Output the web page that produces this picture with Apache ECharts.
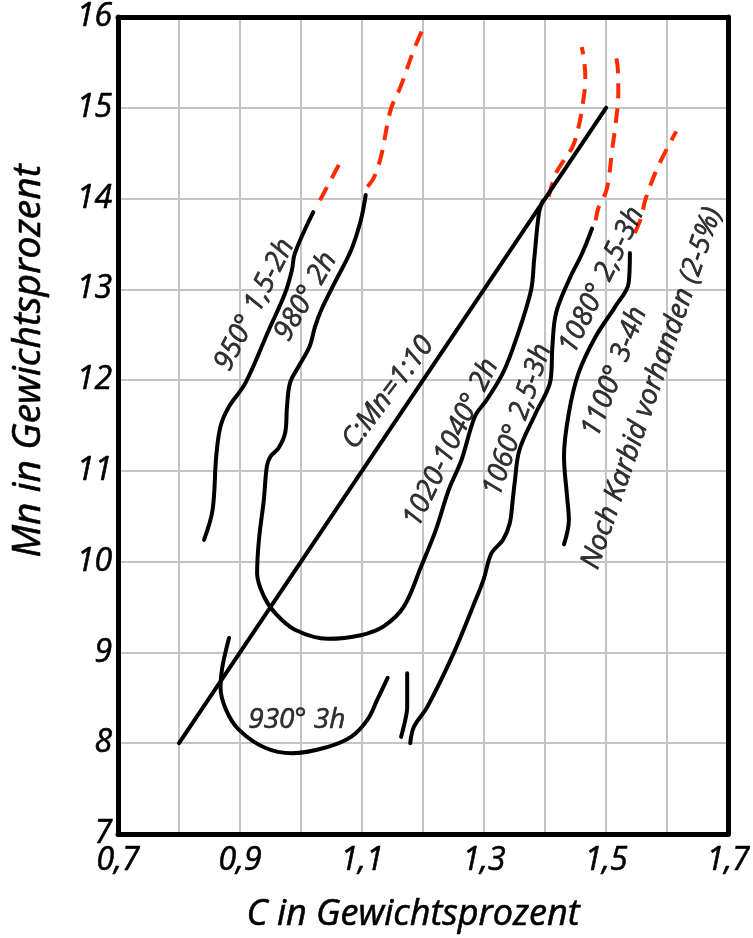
<!DOCTYPE html>
<html><head><meta charset="utf-8">
<script src="https://cdn.jsdelivr.net/npm/echarts@6/dist/echarts.min.js"></script>
<style>html,body{margin:0;padding:0;background:#fff}#c{width:753px;height:938px}</style>
</head><body><div id="c"></div>
<script>
// ---- axis ticks ----
const xTickLabels = ['0,7','0,9','1,1','1,3','1,5','1,7'];
const yTickLabels = ['7','8','9','10','11','12','13','14','15','16'];
const xTitle = 'C in Gewichtsprozent';
const yTitle = 'Mn in Gewichtsprozent';

// ---- C:Mn = 1:10 line ----
const ratioLine = [[0.8,8.0],[1.5,15.0]];

// ---- 950° 1,5-2h ----
const c950 = [[1.020,13.85],[0.990,13.40],[0.985,13.21],[0.974,12.96],[0.947,12.55],[0.909,11.97],[0.882,11.71],[0.868,11.49],[0.861,11.16],[0.855,10.57],[0.841,10.24]];
const c950Dash = [[1.031,13.98],[1.069,14.46]];

// ---- 980° 2h  / 1020-1040° 2h (one continuous curve) ----
const c980 = [[1.106,14.04],[1.098,13.76],[1.082,13.43],[1.055,13.07],[1.033,12.77],[1.023,12.59],[1.014,12.37],[0.996,12.15],[0.982,11.97],[0.977,11.71],[0.974,11.42],[0.963,11.25],[0.950,11.16],[0.944,11.05],[0.939,10.68],[0.931,10.24],[0.928,9.87],[0.939,9.62],[0.958,9.43],[0.990,9.25],[1.044,9.15],[1.098,9.19],[1.136,9.29],[1.169,9.51],[1.197,9.95],[1.221,10.35],[1.242,10.79],[1.263,11.12],[1.285,11.60],[1.304,11.78],[1.331,12.08],[1.353,12.46],[1.377,12.99],[1.382,13.32],[1.390,13.84],[1.396,13.97]];
const c980Dash = [[1.109,14.13],[1.120,14.24],[1.131,14.46],[1.147,14.98],[1.163,15.23],[1.185,15.64],[1.201,15.89]];
const c1020Dash = [[1.406,14.02],[1.418,14.28],[1.445,14.57],[1.455,14.79],[1.461,15.01],[1.466,15.31],[1.464,15.53],[1.460,15.67]];

// ---- 1060° 2,5-3h ----
const c1060 = [[1.179,8.00],[1.185,8.18],[1.207,8.40],[1.250,8.99],[1.282,9.51],[1.299,9.80],[1.312,10.09],[1.331,10.24],[1.342,10.42],[1.347,10.68],[1.350,10.86],[1.358,11.23],[1.385,11.64],[1.409,12.00],[1.412,12.37],[1.418,12.74],[1.439,13.10],[1.461,13.40],[1.477,13.67]];
const c1060Dash = [[1.483,13.76],[1.488,13.91],[1.499,14.06],[1.504,14.20],[1.510,14.54],[1.515,14.79],[1.520,15.16],[1.519,15.45],[1.515,15.60]];

// ---- 1080° / 1100° boundary ----
const c1100 = [[1.431,10.19],[1.439,10.46],[1.436,10.72],[1.431,11.16],[1.439,11.64],[1.455,12.08],[1.483,12.48],[1.515,12.81],[1.537,13.07],[1.539,13.40]];
const c1100Dash = [[1.547,13.62],[1.558,13.80],[1.564,13.98],[1.585,14.35],[1.615,14.74]];

// ---- 930° 3h ----
const c930 = [[0.882,9.16],[0.871,8.84],[0.868,8.62],[0.877,8.37],[0.898,8.15],[0.941,7.95],[0.985,7.89],[1.039,7.95],[1.082,8.07],[1.109,8.26],[1.125,8.48],[1.142,8.72]];
const cShort = [[1.174,8.77],[1.174,8.40],[1.171,8.26],[1.164,8.07]];

// ---- annotations: [x, y, text, angle] ----
const annotations = [
  [0.924,12.83,'950° 1,5-2h',63],
  [1.008,12.92,'980° 2h',60],
  [1.143,11.86,'C:Mn=1:10',53],
  [1.246,11.31,'1020-1040° 2h',64],
  [1.355,11.56,'1060° 2,5-3h',71],
  [1.493,13.10,'1080° 2,5-3h',64],
  [1.514,12.09,'1100° 3-4h',69],
  [1.575,11.91,'Noch Karbid vorhanden (2-5%)',71],
  [0.993,8.25,'930° 3h',0]
];

const FONT = '"Open Sans", "DejaVu Sans", sans-serif';
const chart = echarts.init(document.getElementById('c'), null, {renderer:'canvas'});

function solid(data, smooth){
  return {type:'line', data, showSymbol:false, smooth: smooth===undefined?0.35:smooth, silent:true,
    lineStyle:{color:'#000', width:4, cap:'round', join:'round'}, z:5};
}
function dashed(data){
  return {type:'line', data, showSymbol:false, smooth:0.35, silent:true,
    lineStyle:{color:'#ff2a00', width:4, type:[15,10]}, z:4};
}

const xMin = 0.7, xMax = 1.7, yMin = 7, yMax = 16;
const TXT = {color:'#000', textBorderColor:'#000', textBorderWidth:0.6};

const option = {
  animation:false,
  backgroundColor:'#fff',
  grid:{left:118, right:19, top:17, bottom:104, show:false},
  xAxis:[{
    type:'value', min:xMin, max:xMax, interval:0.1,
    axisLine:{show:true, onZero:false, lineStyle:{color:'#000', width:5}},
    axisTick:{show:false},
    splitLine:{show:true, lineStyle:{color:'#c4c4c4', width:2}},
    axisLabel:Object.assign({margin:11, fontFamily:FONT, fontStyle:'italic', fontSize:32,
      formatter:(v)=>{const i=Math.round((v-xMin)*10); return i%2===0 ? (xTickLabels[i/2]||'') : '';}}, TXT)
  },{
    type:'value', min:xMin, max:xMax, position:'top',
    axisLine:{show:true, onZero:false, lineStyle:{color:'#000', width:5}},
    axisTick:{show:false}, axisLabel:{show:false}, splitLine:{show:false}
  }],
  yAxis:[{
    type:'value', min:yMin, max:yMax, interval:1,
    axisLine:{show:true, onZero:false, lineStyle:{color:'#000', width:5}},
    axisTick:{show:false},
    splitLine:{show:true, lineStyle:{color:'#c4c4c4', width:2}},
    axisLabel:Object.assign({margin:6, fontFamily:FONT, fontStyle:'italic', fontSize:32,
      formatter:(v)=>yTickLabels[Math.round(v-yMin)]||''}, TXT)
  },{
    type:'value', min:yMin, max:yMax, position:'right',
    axisLine:{show:true, onZero:false, lineStyle:{color:'#000', width:5}},
    axisTick:{show:false}, axisLabel:{show:false}, splitLine:{show:false}
  }],
  graphic:[
    {type:'text', x:413, y:915, style:{text:xTitle, font:'italic 36px '+FONT, fill:'#000', stroke:'#000', lineWidth:0.6, align:'center', verticalAlign:'middle'}},
    {type:'text', x:29, y:361, rotation:Math.PI/2, style:{text:yTitle, font:'italic 39px '+FONT, fill:'#000', stroke:'#000', lineWidth:0.6, align:'center', verticalAlign:'middle'}}
  ],
  series:[
    solid(ratioLine, false),
    solid(c950), dashed(c950Dash),
    solid(c980), dashed(c980Dash), dashed(c1020Dash),
    solid(c1060), dashed(c1060Dash),
    solid(c1100), dashed(c1100Dash),
    solid(c930), solid(cShort),
    {type:'scatter', symbolSize:0, silent:true, z:6,
      data: annotations.map(a=>({value:[a[0],a[1]], label:{rotate:a[3], formatter:a[2]}})),
      label:Object.assign({show:true, position:'inside', align:'center', verticalAlign:'middle',
        fontFamily:FONT, fontStyle:'italic', fontSize:28}, TXT)}
  ]
};
chart.setOption(option);
</script></body></html>
